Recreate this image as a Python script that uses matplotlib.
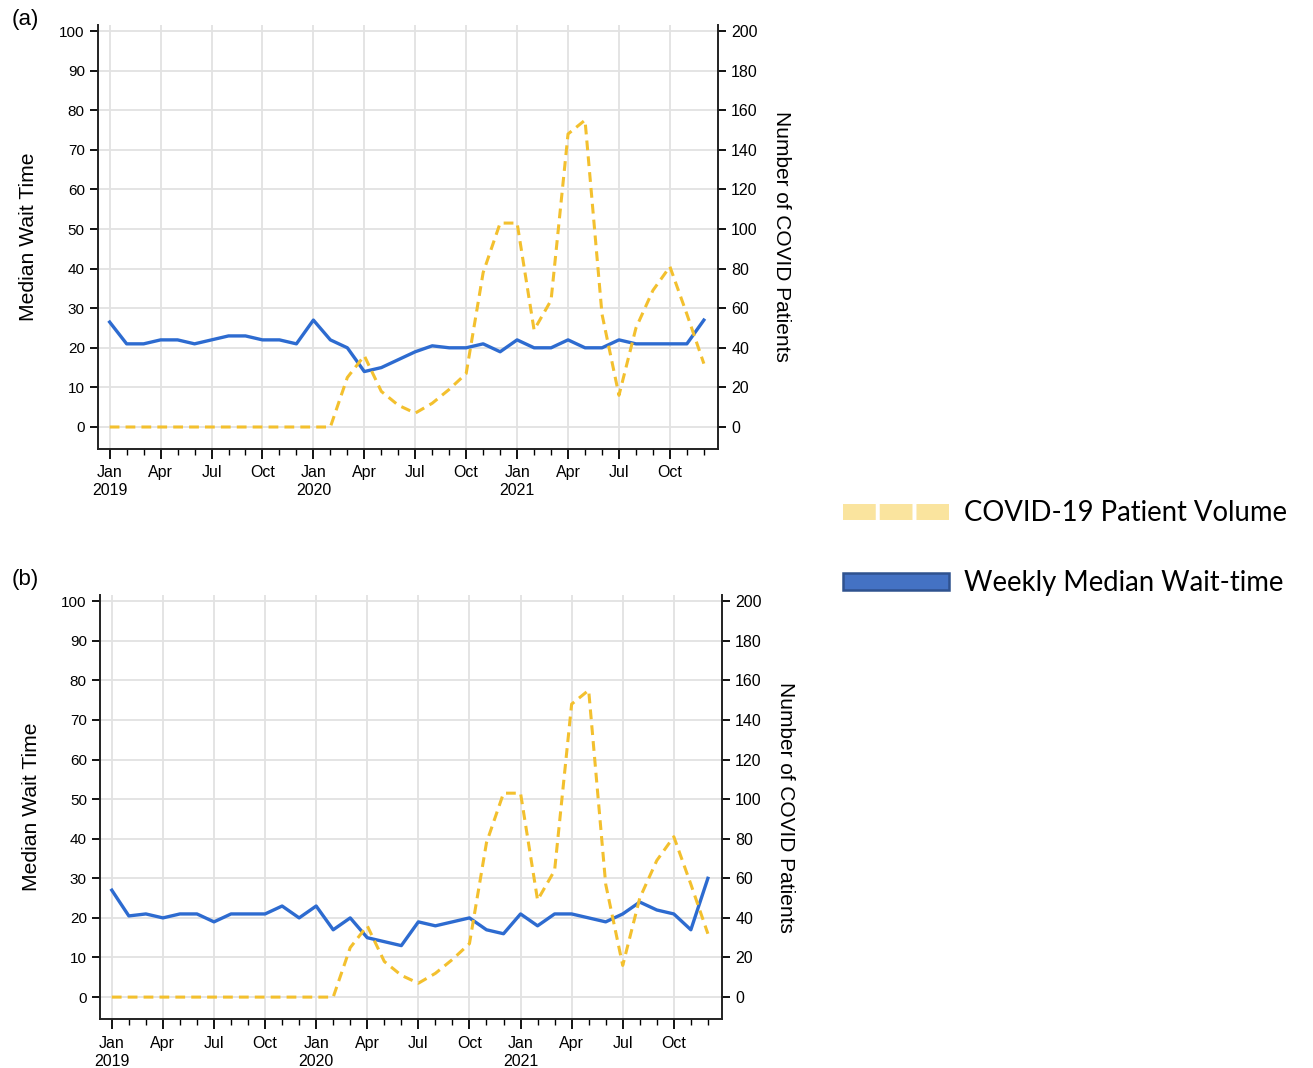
import matplotlib
matplotlib.use("Agg")
import matplotlib.pyplot as plt
from matplotlib.lines import Line2D
from matplotlib.patches import Patch
from matplotlib.ticker import MultipleLocator

# monthly series, Jan 2019 .. Dec 2021
months = list(range(36))
tick_pos = list(range(0, 36, 3))
tick_labels = ["Jan\n2019", "Apr", "Jul", "Oct", "Jan\n2020", "Apr", "Jul", "Oct",
               "Jan\n2021", "Apr", "Jul", "Oct"]

wait_a = [26.5, 21, 21, 22, 22, 21, 22, 23, 23, 22, 22, 21,
          27, 22, 20, 14, 15, 17, 19, 20.5, 20, 20, 21, 19,
          22, 20, 20, 22, 20, 20, 22, 21, 21, 21, 21, 27]
wait_b = [27, 20.5, 21, 20, 21, 21, 19, 21, 21, 21, 23, 20,
          23, 17, 20, 15, 14, 13, 19, 18, 19, 20, 17, 16,
          21, 18, 21, 21, 20, 19, 21, 24, 22, 21, 17, 30]
covid = [0, 0, 0, 0, 0, 0, 0, 0, 0, 0, 0, 0,
         0, 0, 25, 36, 18, 11, 7, 12, 19, 27, 78, 103,
         103, 49, 64, 148, 155, 57, 16, 50, 69, 81, 57, 32]

BLUE = "#2d6bd0"; YEL = "#f3c02e"; GRID = "#e2e2e2"
plt.rcParams.update({"font.family": ["Liberation Sans", "DejaVu Sans"], "font.size": 11})

fig = plt.figure(figsize=(13.13, 10.68), dpi=100)

def panel(rect, wait, tag, tagy):
    ax = fig.add_axes(rect)
    ax.plot(months, wait, color=BLUE, lw=2.4, zorder=3)
    ax.set_xlim(-0.69, 35.83); ax.set_ylim(-5.5, 101.5)
    ax.set_yticks(range(0, 101, 10))
    ax.set_xticks(tick_pos); ax.set_xticklabels(tick_labels, fontsize=11.5, linespacing=1.25)
    ax.xaxis.set_minor_locator(MultipleLocator(1))
    ax.tick_params(axis="x", which="major", length=7, width=1.3, pad=5)
    ax.tick_params(axis="x", which="minor", length=4, width=1.0)
    ax.tick_params(axis="y", length=6, width=1.3, labelsize=11)
    ax.grid(True, color=GRID, lw=1.3, zorder=0)
    ax.set_axisbelow(True)
    for s in ["left", "bottom"]:
        ax.spines[s].set_linewidth(1.4); ax.spines[s].set_color("#222")
    ax.spines["top"].set_visible(False); ax.spines["right"].set_visible(False)
    ax.set_ylabel("Median Wait Time", fontsize=15.2, labelpad=15)
    ax2 = ax.twinx()
    ax2.plot(months, covid, color=YEL, lw=2.2, dashes=(3.2, 2.0), zorder=4)
    ax2.set_ylim(-11, 203); ax2.set_yticks(range(0, 201, 20))
    ax2.tick_params(axis="y", length=6, width=1.3, labelsize=11.5)
    for s in ["top", "left", "bottom"]:
        ax2.spines[s].set_visible(False)
    ax2.spines["right"].set_linewidth(1.4); ax2.spines["right"].set_color("#222")
    ax2.set_ylabel("Number of COVID Patients", fontsize=15.0, rotation=270, labelpad=24)
    fig.text(0.019, tagy, tag, fontsize=16, ha="center", va="center")
    return ax

panel([0.0746, 0.5798, 0.4722, 0.3967], wait_a, "(a)", 1 - 19 / 1068)
panel([0.0762, 0.0460, 0.4737, 0.3967], wait_b, "(b)", 1 - 580 / 1068)

handles = [Line2D([], [], color="#fae49e", lw=11.5, dashes=(2.05, 0.25), solid_capstyle="butt",
                  dash_capstyle="butt"),
           Patch(facecolor="#4472c4", edgecolor="#2f528f", lw=1.8)]
fig.legend(handles, ["COVID-19 Patient Volume", "Weekly Median Wait-time"],
           loc="center left", bbox_to_anchor=(843 / 1313, 1 - 548 / 1068),
           frameon=False, borderpad=0, borderaxespad=0, handlelength=3.85,
           handleheight=0.6, handletextpad=0.55, labelspacing=1.6,
           prop={"family": "Lato", "size": 19.8})

fig.savefig("out.png", dpi=100)
